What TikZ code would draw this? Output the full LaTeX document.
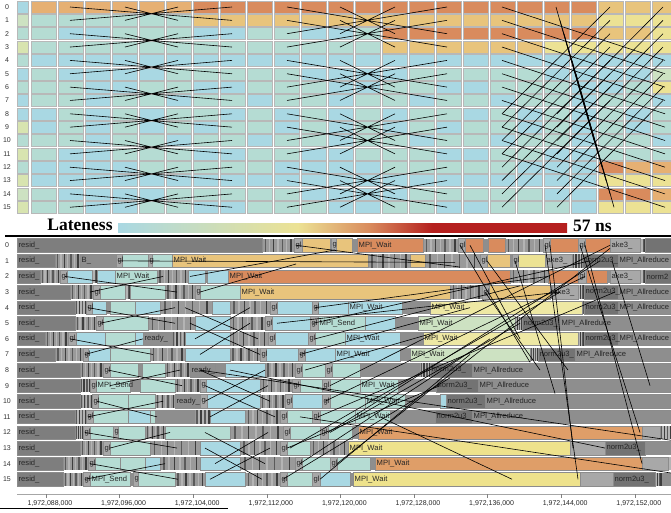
\documentclass[tikz,border=0pt]{standalone}
\usepackage{fontspec}
\setmainfont{Liberation Serif}
\setsansfont{Liberation Sans}
\definecolor{cblu}{HTML}{A9D8E3}
\definecolor{ctea}{HTML}{B5DCD3}
\definecolor{cpgr}{HTML}{CDE2C2}
\definecolor{cygr}{HTML}{D8E4B0}
\definecolor{clye}{HTML}{ECE294}
\definecolor{clyb}{HTML}{EEE8A4}
\definecolor{cyor}{HTML}{E8C47C}
\definecolor{clor}{HTML}{E6B073}
\definecolor{cdor}{HTML}{D98B5D}
\definecolor{cbor}{HTML}{DF9E68}
\definecolor{cyel}{HTML}{EEE28C}
\definecolor{cred}{HTML}{B5201F}
\definecolor{gbar}{HTML}{8E8E8E}
\definecolor{gres}{HTML}{7E7E7E}
\definecolor{gnrm}{HTML}{737373}
\definecolor{glt}{HTML}{A8A8A8}
\definecolor{gstr}{HTML}{9A9A9A}
\definecolor{gsa}{HTML}{5A5A5A}
\definecolor{gsb}{HTML}{B4B4B4}
\definecolor{gsc}{HTML}{3E3E3E}
\pgfdeclarehorizontalshading{lateshade}{100bp}{color(0bp)=(cblu); color(25bp)=(cblu); color(45bp)=(clye); color(53bp)=(cdor); color(60bp)=(cred); color(100bp)=(cred)}

% bar segments: row/from/to/colour/label
\def\segs{0/17/262/gres/resid\_, 0/294/302/glt/gl, 0/302/330/cyor/, 0/331/336/glt/g, 0/336/352/cyor/, 0/357/423/cdor/MPI\_Wait, 0/458/465/glt/gl, 0/465/483/cdor/, 0/488/505/cdor/, 0/543/550/glt/gl, 0/550/578/cdor/, 0/578/585/glt/gl, 0/585/610/cdor/, 0/610/640/glt/ake3\_, 0/645/671/gnrm/,
1/17/55/gres/resid\_, 1/80/116/gbar/B\_, 1/116/122/glt/gl, 1/122/148/ctea/, 1/148/152/glt/g, 1/152/172/ctea/, 1/172/368/cyor/MPI\_Wait, 1/410/425/cyor/, 1/480/487/glt/gl, 1/487/510/cyor/, 1/512/518/glt/gl, 1/518/545/clye/, 1/545/572/glt/ake3\_, 1/582/618/gnrm/norm2u3\_, 1/618/671/gbar/MPI\_Allreduce,
2/17/40/gres/resid\_, 2/60/67/glt/gl, 2/67/92/cblu/, 2/97/115/cblu/, 2/115/157/ctea/MPI\_Wait, 2/188/205/cblu/, 2/207/228/cblu/, 2/228/510/cdor/MPI\_Wait, 2/548/578/cdor/, 2/578/586/glt/gl, 2/586/607/cdor/, 2/610/640/glt/ake3\_, 2/645/671/gnrm/norm2,
3/17/70/gres/resid\_, 3/93/100/glt/gl, 3/100/125/ctea/, 3/130/165/ctea/, 3/195/200/glt/g, 3/200/240/ctea/, 3/240/450/cyor/MPI\_Wait, 3/482/489/glt/gl, 3/489/550/cyor/, 3/552/578/glt/ake3\_, 3/584/618/gnrm/norm2u3\_, 3/618/671/gbar/MPI\_Allreduce,
4/17/75/gres/resid\_, 4/86/92/glt/gl, 4/92/106/cblu/, 4/110/135/ctea/, 4/135/160/cblu/, 4/212/230/cblu/, 4/270/277/glt/gl, 4/277/312/cblu/, 4/312/318/glt/gl, 4/318/348/cblu/, 4/348/402/cblu/MPI\_Wait, 4/430/582/clyb/MPI\_Wait, 4/584/618/gnrm/norm2u3\_, 4/618/671/gbar/MPI\_Allreduce,
5/17/75/gres/resid\_, 5/96/103/glt/gl, 5/103/148/ctea/, 5/195/230/cblu/, 5/265/272/glt/gl, 5/272/310/cblu/, 5/310/318/glt/gl, 5/318/365/ctea/MPI\_Send, 5/365/395/cblu/, 5/418/515/cpgr/MPI\_Wait, 5/522/560/gnrm/norm2u3\_, 5/560/671/gbar/MPI\_Allreduce,
6/17/45/gres/resid\_, 6/68/76/glt/gl, 6/76/105/cblu/, 6/105/135/ctea/, 6/135/143/cblu/, 6/143/172/gbar/ready\_, 6/185/230/cblu/, 6/268/275/glt/gl, 6/275/308/cblu/, 6/308/315/glt/gl, 6/315/345/ctea/, 6/345/400/cblu/MPI\_Wait, 6/423/578/clyb/MPI\_Wait, 6/584/618/gnrm/norm2u3\_, 6/618/671/gbar/MPI\_Allreduce,
7/17/55/gres/resid\_, 7/83/88/glt/gl, 7/88/110/cblu/, 7/110/150/ctea/, 7/185/230/cblu/, 7/260/266/glt/gl, 7/266/298/cblu/, 7/298/305/glt/gl, 7/305/335/cblu/, 7/335/400/cblu/MPI\_Wait, 7/410/530/cpgr/MPI\_Wait, 7/538/575/gnrm/norm2u3\_, 7/575/671/gbar/MPI\_Allreduce,
8/17/80/gres/resid\_, 8/103/110/glt/gl, 8/110/138/ctea/, 8/142/165/ctea/, 8/190/215/gbar/ready\_, 8/225/265/cblu/, 8/295/302/glt/gl, 8/302/325/ctea/, 8/325/332/glt/gl, 8/332/360/ctea/, 8/430/472/gnrm/norm2u3\_, 8/472/671/gbar/MPI\_Allreduce,
9/17/80/gres/resid\_, 9/90/96/glt/gl, 9/96/130/ctea/MPI\_Send, 9/140/175/ctea/, 9/200/206/glt/g, 9/206/260/cblu/, 9/292/300/glt/gl, 9/300/322/ctea/, 9/322/330/glt/gl, 9/330/360/ctea/, 9/360/398/ctea/MPI\_Wait, 9/436/478/gnrm/norm2u3\_, 9/478/671/gbar/MPI\_Allreduce,
10/17/80/gres/resid\_, 10/92/98/glt/gl, 10/98/128/ctea/, 10/128/155/ctea/, 10/175/200/gbar/ready\_, 10/200/207/glt/g, 10/207/260/cblu/, 10/285/292/glt/gl, 10/292/322/cblu/, 10/322/330/glt/gl, 10/330/365/ctea/, 10/365/405/ctea/MPI\_Wait, 10/440/446/cblu/, 10/446/485/gnrm/norm2u3\_, 10/485/671/gbar/MPI\_Allreduce,
11/17/75/gres/resid\_, 11/86/93/glt/gl, 11/93/128/ctea/, 11/128/150/cblu/, 11/150/155/ctea/, 11/210/245/cblu/, 11/280/287/glt/gl, 11/287/312/ctea/, 11/312/320/glt/gl, 11/320/355/ctea/, 11/355/390/ctea/MPI\_Wait, 11/435/472/gnrm/norm2u3\_, 11/472/671/gbar/MPI\_Allreduce,
12/17/75/gres/resid\_, 12/83/90/glt/gl, 12/90/113/ctea/, 12/113/118/glt/g, 12/118/145/ctea/, 12/165/230/ctea/, 12/283/290/glt/gl, 12/290/320/ctea/, 12/320/328/glt/gl, 12/328/352/ctea/, 12/358/642/cbor/MPI\_Wait, 12/642/660/glt/,
13/17/80/gres/resid\_, 13/103/110/glt/gl, 13/110/150/ctea/, 13/200/240/cblu/, 13/280/287/glt/gl, 13/287/310/ctea/, 13/348/570/cyel/MPI\_Wait, 13/570/605/glt/, 13/605/645/gnrm/norm2u3\_,
14/17/63/gres/resid\_, 14/88/95/glt/gl, 14/95/120/ctea/, 14/120/145/ctea/, 14/145/160/cblu/, 14/200/240/cblu/, 14/295/302/glt/gl, 14/302/330/ctea/, 14/330/337/glt/gl, 14/337/370/ctea/, 14/375/642/cbor/MPI\_Wait, 14/642/668/glt/,
15/17/63/gres/resid\_, 15/83/90/glt/gl, 15/90/130/ctea/MPI\_Send, 15/133/138/glt/g, 15/138/175/ctea/, 15/205/245/cblu/, 15/280/287/glt/gl, 15/287/312/ctea/, 15/312/320/glt/gl, 15/320/350/cblu/, 15/353/580/cyel/MPI\_Wait, 15/580/613/glt/, 15/613/655/gnrm/norm2u3\_}

\begin{document}
\begin{tikzpicture}[x=1pt, y=-1pt,
    declare function={ty(\r)=7+13.35*\r; by(\r)=238.5+15.6*\r; my(\r)=245.25+15.6*\r;},
    cell/.style={draw=black!28, line width=0.5pt},
    msg/.style={black, line width=0.6pt},
    rowlab/.style={font=\sffamily\fontsize{7}{8}\selectfont, text=black!80},
    barlab/.style={anchor=west, inner sep=0pt, font=\sffamily\fontsize{7.6}{8}\selectfont, text=black!85},
    ticklab/.style={font=\sffamily\fontsize{7}{8}\selectfont, text=black!85},
    bigtxt/.style={font=\bfseries\fontsize{17.5}{18}\selectfont, inner sep=0pt}]
\useasboundingbox (0,0) rectangle (671,512);
\clip (0,0) rectangle (671,512);

% lateness grid
\foreach \r in {0,...,15}{
    \node[rowlab] (t\r) at (7,{ty(\r)}) {\r};
    \foreach \j in {0,...,23}{
        \pgfmathtruncatemacro\k{mod(\r*7+\j*5+\r*\j,9)}
        \ifnum\k<4 \def\cl{cblu}\else\def\cl{ctea}\fi
        \draw[cell, fill=\cl] ({31+27*\j},{ty(\r)-6}) rectangle ++(25,12);
    }
}
\foreach \r/\xa/\xb/\cl in {0/0/5/clor, 0/6/20/cdor, 0/21/23/cyor, 1/0/5/ctea, 1/6/20/cyor, 1/21/23/clye, 2/13/20/cdor, 2/21/22/cyor, 2/23/23/clye, 3/0/12/ctea, 3/13/18/cyor, 3/19/23/clye, 5/23/23/cpgr, 6/23/23/clye, 12/21/21/cdor, 12/22/23/clor, 13/21/23/clye, 14/21/22/cdor, 14/23/23/clor, 15/21/23/clye}{
    \foreach \j in {\xa,...,\xb}
        \draw[cell, fill=\cl] ({31+27*\j},{ty(\r)-6}) rectangle ++(25,12);
}
\foreach \r/\cl in {0/cblu,1/cpgr,2/ctea,3/cygr,4/ctea,5/cblu,6/ctea,7/cblu,8/cblu,9/cygr,10/ctea,11/cygr,12/ctea,13/cygr,14/cpgr,15/cygr}
    \draw[cell, fill=\cl] (17,{ty(\r)-6}) rectangle ++(11,12);

% exchanges, stride 1, 2, 4 and 8
\foreach \a in {0,2,...,14}
    \draw[msg] (70,{ty(\a)}) -- (232,{ty(\a+1)}) (70,{ty(\a+1)}) -- (232,{ty(\a)})
               (125,{ty(\a)}) -- (178,{ty(\a+1)}) (125,{ty(\a+1)}) -- (178,{ty(\a)});
\foreach \a in {0,1,4,5,8,9,12,13}
    \draw[msg] (287,{ty(\a)}) -- (447,{ty(\a+2)}) (287,{ty(\a+2)}) -- (447,{ty(\a)})
               (340,{ty(\a)}) -- (395,{ty(\a+2)}) (340,{ty(\a+2)}) -- (395,{ty(\a)});
\foreach \r in {0,...,11}
    \draw[msg] (502,{ty(\r)}) -- (665,{ty(\r+4)});
\foreach \r in {8,...,15}
    \draw[msg] (502,{ty(\r)}) -- (610,{ty(\r-8)}) (557,{ty(\r)}) -- (663,{ty(\r-8)});
\foreach \r in {0,...,5}
    \draw[msg] ({556+4*\r},{ty(\r)}) -- ({594+4*\r},{ty(\r+10)});

% colour scale
\node[bigtxt] (late) at (80,225) {Lateness};
\shade[shading=lateshade] (118,223) rectangle (567,232);
\node[bigtxt, anchor=west] (maxns) at (573,225.5) {57 ns};
\draw[line width=2.5pt] (5,236) -- (671,236);

% timeline bars
\foreach \r in {0,...,15}{
    \node[rowlab] (b\r) at (7,{my(\r)}) {\r};
    \fill[gbar] (17,{by(\r)}) rectangle (671,{by(\r)+13.5});
}
\foreach \r/\xa/\xb in {0/262/294, 0/330/336, 0/423/458, 0/505/543, 0/640/645, 1/55/80, 1/368/410, 1/425/480, 1/572/582, 2/40/60, 2/92/97, 2/157/188, 2/510/548, 2/640/645, 3/70/93, 3/125/130, 3/165/195, 3/450/482, 3/578/584, 4/75/86, 4/160/212, 4/230/270, 4/582/584, 5/75/96, 5/148/195, 5/230/265, 5/515/522, 6/45/68, 6/172/185, 6/230/268, 6/578/584, 7/55/83, 7/150/185, 7/230/260, 7/530/538, 8/80/103, 8/165/190, 8/265/295, 8/420/430, 9/80/90, 9/175/200, 9/260/292, 10/80/92, 10/155/175, 10/260/285, 11/75/86, 11/195/210, 11/245/280, 12/75/83, 12/145/165, 12/230/283, 12/660/671, 13/80/103, 13/150/200, 13/240/280, 13/310/348, 14/63/88, 14/160/200, 14/240/295, 14/668/671, 15/63/83, 15/175/205, 15/245/280, 15/655/661}{
    \fill[gstr] (\xa,{by(\r)}) rectangle (\xb,{by(\r)+13.5});
    \foreach \f/\cl in {0.08/gsa, 0.21/gsb, 0.34/gsc, 0.48/gsb, 0.61/gsa, 0.75/gsb, 0.89/gsc}
        \fill[\cl] ({\xa+\f*(\xb-\xa)},{by(\r)}) rectangle ++(1.4,13.5);
}
\foreach \r/\xa/\xb/\cl/\tx in \segs
    \filldraw[fill=\cl, draw=black!45, line width=0.3pt] (\xa,{by(\r)}) rectangle (\xb,{by(\r)+13.5});
\foreach \r/\xa/\xb/\cl/\tx in \segs
    \node[barlab] (s\r-\xa) at ({\xa+1.5},{my(\r)}) {\tx};

% messages
\foreach \xa/\ra/\xb/\rb in {65/2/177/3, 90/3/163/2, 88/4/175/5, 100/5/175/4, 70/6/153/7, 85/7/143/6, 108/8/182/9, 110/9/180/8, 97/10/157/11, 88/11/163/10, 85/12/177/13, 110/13/170/12, 90/14/178/15, 85/15/165/14, 118/1/455/1.1, 296/0/460/1.4, 190/2/335/0.3, 200/3/296/1.2,
    185/4/258/6, 195/6/250/4, 190/5/260/7, 200/7/250/5, 200/8/270/10, 205/10/265/8, 205/9/275/11, 210/11/268/9, 205/12/265/14, 215/14/268/12, 205/13/262/15, 210/15/270/13,
    315/4/548/2, 277/5/560/3, 313/5/590/1, 315/6/520/2.6, 300/7/470/4, 305/8/440/5.5, 330/9/610/0, 325/10/585/2, 318/11/615/3, 328/12/600/1, 290/13/560/3, 337/14/610/0.2, 283/15/450/8.5, 320/15/470/7, 287/13/440/9, 300/14/490/6, 330/12/520/5,
    460/0/530/7.5, 470/0/520/6, 545/0/578/15, 550/0/573/13, 580/0/640/12, 585/0/642/14, 487/1/568/8, 515/1/555/9.5, 612/1/650/9, 485/3/540/8,
    200/8/671/12.5, 230/8/605/13, 300/11/671/14.6, 380/11/512/15}
    \draw[msg] (\xa,{my(\ra)}) -- (\xb,{my(\rb)});

% time axis
\draw[black!35, line width=0.6pt] (17,494) -- (671,494);
\foreach \v [count=\k from 0] in {088,096,104,112,120,128,136,144,152}{
    \draw[black!50] ({46+73.6*\k},494) -- ++(0,4);
    \node[ticklab] (x\k) at ({50+73.6*\k},503) {1,972,\v,000};
}
\draw[line width=1.2pt] (0,508.5) -- (228,508.5);
\end{tikzpicture}
\end{document}
